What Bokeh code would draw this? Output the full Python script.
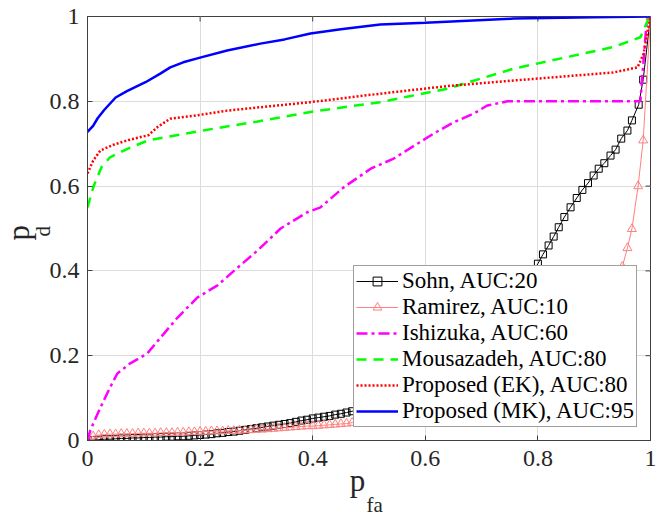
from bokeh.plotting import figure
from bokeh.models import Range1d, FixedTicker, Legend, Title
from bokeh.embed import file_html
from bokeh.resources import INLINE

# ---------------- data ----------------
sohn_x = [0.00, 0.01, 0.02, 0.03, 0.04, 0.05, 0.06, 0.07, 0.08, 0.09,
          0.10, 0.11, 0.12, 0.13, 0.14, 0.15, 0.16, 0.17, 0.18, 0.19,
          0.20, 0.21, 0.22, 0.23, 0.24, 0.25, 0.26, 0.27, 0.28, 0.29,
          0.30, 0.31, 0.32, 0.33, 0.34, 0.35, 0.36, 0.37, 0.38, 0.39,
          0.40, 0.41, 0.42, 0.43, 0.44, 0.45, 0.46, 0.47,
          0.50, 0.55, 0.60, 0.65, 0.70, 0.74, 0.77, 0.78,
          0.790, 0.800, 0.809, 0.819, 0.828, 0.837, 0.847, 0.858, 0.869, 0.879,
          0.889, 0.899, 0.908, 0.918, 0.929, 0.938, 0.948, 0.959, 0.967, 0.979,
          0.987, 1.000]
sohn_y = [0.000, 0.001, 0.002, 0.003, 0.003, 0.004, 0.005, 0.005, 0.006, 0.006,
          0.007, 0.007, 0.008, 0.008, 0.009, 0.009, 0.010, 0.010, 0.011, 0.012,
          0.013, 0.014, 0.015, 0.017, 0.018, 0.020, 0.021, 0.023, 0.025, 0.027,
          0.029, 0.031, 0.033, 0.035, 0.037, 0.039, 0.041, 0.044, 0.047, 0.049,
          0.052, 0.054, 0.056, 0.058, 0.061, 0.063, 0.066, 0.069,
          0.077, 0.093, 0.118, 0.155, 0.210, 0.275, 0.340, 0.365,
          0.396, 0.417, 0.439, 0.460, 0.481, 0.503, 0.527, 0.550, 0.572, 0.591,
          0.607, 0.625, 0.641, 0.654, 0.672, 0.686, 0.712, 0.731, 0.755, 0.792,
          0.851, 1.000]

ramirez_x = [0.00, 0.01, 0.02, 0.03, 0.04, 0.05, 0.06, 0.07, 0.08, 0.09,
             0.10, 0.11, 0.12, 0.13, 0.14, 0.15, 0.16, 0.17, 0.18, 0.19,
             0.20, 0.21, 0.22, 0.23, 0.24, 0.25, 0.26, 0.27, 0.28, 0.29,
             0.30, 0.31, 0.32, 0.33, 0.34, 0.35, 0.36, 0.37, 0.38, 0.39,
             0.40, 0.41, 0.42, 0.43, 0.44, 0.45, 0.46, 0.47,
             0.55, 0.65, 0.75, 0.85, 0.90, 0.93,
             0.950, 0.959, 0.967, 0.978, 0.987, 1.000]
ramirez_y = [0.005, 0.010, 0.013, 0.014, 0.015, 0.015, 0.016, 0.016, 0.016, 0.017,
             0.017, 0.017, 0.017, 0.018, 0.018, 0.018, 0.019, 0.019, 0.020, 0.020,
             0.021, 0.021, 0.022, 0.022, 0.022, 0.023, 0.023, 0.024, 0.024, 0.025,
             0.026, 0.026, 0.027, 0.028, 0.029, 0.030, 0.031, 0.032, 0.033, 0.034,
             0.034, 0.035, 0.036, 0.037, 0.038, 0.039, 0.040, 0.042,
             0.055, 0.075, 0.105, 0.160, 0.220, 0.300,
             0.410, 0.454, 0.499, 0.600, 0.708, 1.000]

ishizuka_x = [0.000, 0.005, 0.023, 0.040, 0.053, 0.076, 0.106, 0.130, 0.160, 0.195,
              0.231, 0.260, 0.302, 0.343, 0.390, 0.414, 0.455, 0.503, 0.544, 0.580,
              0.615, 0.650, 0.686, 0.710, 0.746, 0.800, 0.982, 0.993, 1.000]
ishizuka_y = [0.000, 0.024, 0.078, 0.125, 0.158, 0.182, 0.205, 0.243, 0.290, 0.337,
              0.366, 0.400, 0.448, 0.500, 0.538, 0.550, 0.597, 0.641, 0.665, 0.695,
              0.724, 0.750, 0.771, 0.790, 0.800, 0.800, 0.800, 0.985, 1.000]

mousa_x = [0.000, 0.011, 0.025, 0.040, 0.071, 0.108, 0.200, 0.300, 0.396, 0.520,
           0.640, 0.757, 0.934, 0.982, 0.995, 1.000]
mousa_y = [0.550, 0.600, 0.645, 0.668, 0.688, 0.708, 0.730, 0.752, 0.775, 0.798,
           0.830, 0.877, 0.928, 0.951, 0.990, 1.000]

ek_x = [0.000, 0.010, 0.023, 0.045, 0.071, 0.108, 0.125, 0.147, 0.200, 0.248,
        0.307, 0.396, 0.520, 0.640, 0.757, 0.934, 0.977, 0.988, 0.994, 1.000]
ek_y = [0.630, 0.660, 0.684, 0.697, 0.708, 0.720, 0.740, 0.759, 0.768, 0.778,
        0.786, 0.798, 0.818, 0.836, 0.849, 0.868, 0.880, 0.913, 0.960, 1.000]

mk_x = [0.000, 0.010, 0.018, 0.030, 0.050, 0.070, 0.103, 0.130, 0.147, 0.170,
        0.200, 0.248, 0.307, 0.350, 0.396, 0.450, 0.520, 0.600, 0.757, 0.900, 1.000]
mk_y = [0.728, 0.742, 0.760, 0.780, 0.809, 0.824, 0.845, 0.866, 0.880, 0.892,
        0.903, 0.920, 0.936, 0.946, 0.960, 0.970, 0.981, 0.985, 0.995, 0.998, 1.000]

labels = ["Sohn, AUC:20", "Ramirez, AUC:10", "Ishizuka, AUC:60",
          "Mousazadeh, AUC:80", "Proposed (EK), AUC:80", "Proposed (MK), AUC:95"]

tick_values = [0, 0.2, 0.4, 0.6, 0.8, 1]
tick_labels = ["0", "0.2", "0.4", "0.6", "0.8", "1"]

# ---------------- figure ----------------
FONT = "Liberation Serif"
AX = "#404040"
TXT = "#262626"
NB = "\u00a0"
W, H = 658, 516
FL, FT, FR, FB = 87, 16, 650, 440          # frame edges on the page
FW, FH = FR - FL, FB - FT

p = figure(width=W, height=H, output_backend="svg", toolbar_location=None,
           x_range=Range1d(0, 1), y_range=Range1d(0, 1),
           min_border_left=FL, min_border_right=W - FR,
           min_border_top=FT, min_border_bottom=H - FB)
p.background_fill_color = "white"
p.border_fill_color = "white"
p.outline_line_color = AX
p.outline_line_width = 1
p.outline_line_alpha = 1

overrides = {v: t for v, t in zip(tick_values, tick_labels)}
for ax in (p.xaxis[0], p.yaxis[0]):
    ax.ticker = FixedTicker(ticks=tick_values)
    ax.major_label_overrides = overrides
    ax.major_tick_in = 5
    ax.major_tick_out = 0
    ax.minor_tick_line_color = None
    ax.axis_line_color = AX
    ax.major_tick_line_color = AX
    ax.major_label_text_font = FONT
    ax.major_label_text_font_size = "24px"
    ax.major_label_text_color = TXT
    ax.axis_label_text_font = FONT
    ax.axis_label_text_font_style = "normal"
    ax.axis_label_text_color = TXT
p.xaxis[0].major_label_standoff = 10
p.yaxis[0].major_label_standoff = 8

# x label: "p" (axis label) + subscript "fa" (title below)
p.xaxis[0].axis_label = "p" + NB * 3
p.xaxis[0].axis_label_text_font_size = "31px"
p.xaxis[0].axis_label_standoff = -6
p.add_layout(Title(text="fa", align="left", offset=366 - FL, standoff=-20,
                   text_font=FONT, text_font_size="21px", text_font_style="normal",
                   text_color=TXT), "below")

# y label: subscript "d" (axis label, inner) + "p" (title, outer)
p.yaxis[0].axis_label = "d" + NB
p.yaxis[0].axis_label_text_font_size = "21px"
p.yaxis[0].axis_label_standoff = -8
p.add_layout(Title(text="p", align="left", offset=FB - 240, standoff=-16,
                   text_font=FONT, text_font_size="31px", text_font_style="normal",
                   text_color=TXT), "left")

p.xgrid.ticker = FixedTicker(ticks=tick_values)
p.ygrid.ticker = FixedTicker(ticks=tick_values)
for g in (p.xgrid[0], p.ygrid[0]):
    g.grid_line_color = "#dcdcdc"
    g.grid_line_width = 1

# inward ticks on the top and right edges of the box
inner = tick_values[1:-1]
tlx, tly = 5.0 / FW, 5.0 / FH
p.segment(x0=inner, y0=[1] * len(inner), x1=inner, y1=[1 - tly] * len(inner),
          line_color=AX, line_width=1)
p.segment(x0=[1] * len(inner), y0=inner, x1=[1 - tlx] * len(inner), y1=inner,
          line_color=AX, line_width=1)

# ---------------- series ----------------
r_sohn_l = p.line(sohn_x, sohn_y, line_color="black", line_width=1)
r_sohn_m = p.scatter(sohn_x, sohn_y, marker="square", size=7, fill_color=None,
                     line_color="black", line_width=1)
r_ram_l = p.line(ramirez_x, ramirez_y, line_color="#ff8080", line_width=1)
r_ram_m = p.scatter(ramirez_x, ramirez_y, marker="triangle", size=9, fill_color=None,
                    line_color="#ff8080", line_width=1)
r_ish = p.line(ishizuka_x, ishizuka_y, line_color="#ff00ff", line_width=2.5,
               line_dash="11 4 3 4")
r_mou = p.line(mousa_x, mousa_y, line_color="#00ff00", line_width=2.5, line_dash="10 7")
r_ek = p.line(ek_x, ek_y, line_color="#ff0000", line_width=2.5, line_dash="2 2")
r_mk = p.line(mk_x, mk_y, line_color="#0000ff", line_width=2.5)

legend = Legend(items=[
    (labels[0], [r_sohn_l, r_sohn_m]),
    (labels[1], [r_ram_l, r_ram_m]),
    (labels[2], [r_ish]),
    (labels[3], [r_mou]),
    (labels[4], [r_ek]),
    (labels[5], [r_mk]),
], location=(353 - FL, FB - 427),
    label_text_font=FONT, label_text_font_style="normal",
    label_text_font_size="23px", label_text_color="black",
    label_height=22, glyph_height=22, glyph_width=42, spacing=0, padding=2,
    margin=0, label_standoff=4, border_line_color=AX, border_line_width=1,
    background_fill_color="white", background_fill_alpha=1)
p.add_layout(legend, "center")

open("out.html", "w").write(file_html(p, INLINE))
